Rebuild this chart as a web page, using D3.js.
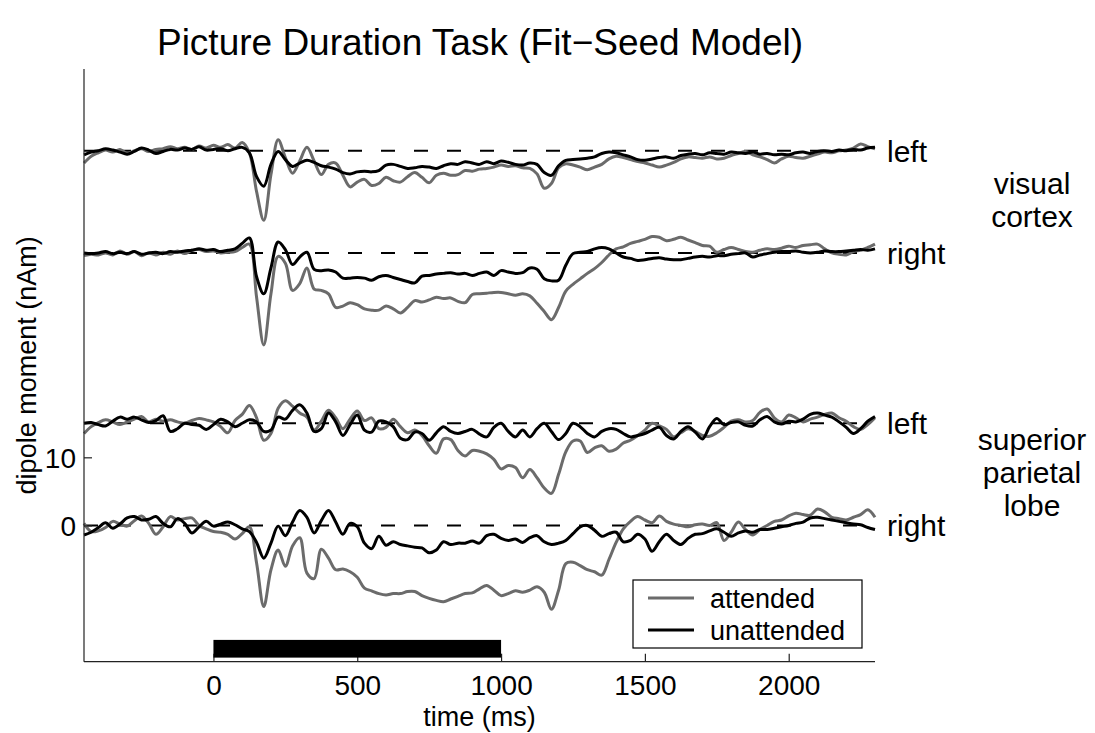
<!DOCTYPE html>
<html>
<head>
<meta charset="utf-8">
<script src="https://cdn.jsdelivr.net/npm/d3@7"></script>
<style>
    body { margin: 0; background: #fff; }
    text { font-family: "Liberation Sans", Arial, Helvetica, sans-serif; fill: #000; }
</style>
</head>
<body>
<div id="chart"></div>
<script>
// sample times (ms)
const timeMs = [-450, -425, -400, -375, -350, -325, -300, -275, -250, -225, -200, -175, -150, -125, -100, -75, -50, -25,
    0, 25, 50, 75, 100, 125, 150, 175, 200, 225, 250, 275, 300, 325, 350, 375, 400, 425, 450, 475,
    500, 525, 550, 575, 600, 625, 650, 675, 700, 725, 750, 775, 800, 825, 850, 875, 900, 925, 950, 975,
    1000, 1025, 1050, 1075, 1100, 1125, 1150, 1175, 1200, 1225, 1250, 1275, 1300, 1325, 1350, 1375, 1400, 1425, 1450, 1475,
    1500, 1525, 1550, 1575, 1600, 1625, 1650, 1675, 1700, 1725, 1750, 1775, 1800, 1825, 1850, 1875, 1900, 1925, 1950, 1975,
    2000, 2025, 2050, 2075, 2100, 2125, 2150, 2175, 2200, 2225, 2250, 2275, 2300];

// dipole moment (nAm) relative to each channel's baseline
const visualLeftAttended = [-1.8, -0.8, -0.3, 0.1, -0.2, 0.2, -0.4, 0.0, 0.3, -0.1, 0.2, 0.3, 0.6, 0.3, 0.5, 0.2, 0.7, 0.4,
    0.8, 0.5, 0.9, 0.4, 1.2, -0.3, -6.0, -10.2, -3.5, 1.6, -1.0, -3.3, -1.5, 0.5, -1.5, -3.5, -2.0, -1.8, -3.6, -5.3,
    -4.6, -4.2, -5.1, -4.8, -3.9, -4.4, -4.6, -3.8, -3.2, -3.9, -4.7, -3.6, -3.3, -3.6, -3.5, -2.9, -3.0, -2.7, -2.6, -2.4,
    -2.1, -2.3, -2.2, -2.5, -2.6, -3.4, -5.5, -4.8, -2.5, -1.9, -2.1, -2.4, -2.8, -2.4, -2.0, -1.2, -0.8, -1.0, -1.3, -1.6,
    -1.8, -2.1, -2.4, -2.1, -1.7, -1.2, -0.9, -1.0, -1.1, -0.9, -1.2, -1.1, -0.7, -0.4, -0.1, -0.6, -0.9, -1.3, -1.8, -1.2,
    -0.8, -1.0, -1.1, -0.8, -0.5, -0.2, -0.3, 0.0, 0.1, 0.4, 1.0, 0.6, 0.3];
const visualLeftUnattended = [-0.6, -0.2, 0.0, 0.3, 0.1, -0.2, -0.5, -0.1, 0.4, 0.1, -0.4, -0.1, 0.2, 0.1, 0.4, 0.2, 0.6, 0.1,
    0.2, 0.3, 0.0, 0.3, 0.5, -0.3, -3.8, -5.2, -2.0, -0.1, -1.3, -2.3, -1.8, -1.4, -1.7, -2.2, -2.4, -2.7, -3.2, -3.4,
    -3.1, -3.0, -3.1, -2.9, -2.1, -2.0, -2.3, -2.6, -2.5, -2.3, -2.4, -2.6, -2.2, -1.9, -2.0, -1.6, -1.8, -2.0, -1.6, -1.9,
    -1.5, -1.7, -2.0, -2.1, -1.8, -2.0, -3.2, -3.6, -2.2, -1.4, -1.3, -1.2, -1.1, -0.9, -0.4, -0.2, -0.3, -0.6, -0.9, -1.3,
    -1.4, -1.2, -1.0, -0.9, -1.1, -0.7, -0.5, -0.4, -0.6, -0.3, -0.4, -0.5, -0.2, -0.3, -0.4, -0.2, -0.5, -0.4, -0.6, -0.5,
    -0.6, -0.3, -0.2, -0.4, -0.1, 0.0, -0.1, 0.1, 0.0, 0.2, 0.1, 0.4, 0.5];
const visualRightAttended = [-0.4, -0.2, -0.3, 0.0, -0.3, 0.3, -0.2, 0.2, -0.4, 0.0, -0.3, 0.1, -0.2, 0.3, -0.1, 0.4, 0.5, 0.2,
    0.3, 0.0, 0.1, 0.2, 0.8, 1.3, -6.5, -13.5, -6.0, -0.5, -1.5, -5.5, -4.5, -2.2, -5.3, -5.5, -6.0, -8.0, -7.8, -7.3,
    -7.6, -8.2, -8.4, -8.4, -7.8, -8.2, -8.8, -8.0, -7.0, -7.2, -6.9, -6.5, -6.7, -6.6, -7.1, -7.3, -6.1, -6.0, -5.9, -5.8,
    -5.8, -6.0, -6.2, -6.0, -6.3, -7.4, -8.6, -9.8, -8.0, -5.6, -4.6, -3.8, -3.0, -2.3, -1.4, -0.3, 0.6, 0.9, 1.4, 1.7,
    2.0, 2.4, 2.3, 1.8, 2.0, 2.3, 1.9, 1.5, 1.1, 1.0, 0.1, 0.5, 0.8, 0.5, 0.2, 0.1, 0.4, 0.6, 0.5, 0.7,
    1.0, 0.8, 1.1, 1.2, 1.3, 0.6, 0.0, -0.2, -0.3, 0.2, 0.4, 0.8, 1.3];
const visualRightUnattended = [0.0, -0.1, 0.0, 0.2, -0.1, 0.1, -0.1, 0.2, -0.2, 0.0, 0.1, -0.1, 0.2, 0.1, 0.3, 0.4, 0.6, 0.4,
    0.5, 0.2, 0.4, 0.6, 1.4, 2.2, -3.5, -6.0, -2.2, 1.6, 0.5, -1.7, -0.6, 0.1, -2.4, -2.6, -2.5, -2.8, -3.7, -3.7,
    -3.6, -3.7, -4.0, -3.5, -3.3, -3.6, -3.9, -4.2, -4.4, -3.4, -3.3, -3.1, -3.0, -2.9, -3.1, -3.0, -3.3, -3.0, -2.8, -3.3,
    -2.6, -2.8, -3.0, -2.9, -2.2, -2.4, -3.8, -4.1, -4.0, -1.8, -0.1, 0.1, 0.2, 0.6, 0.8, 0.6, 0.0, -0.6, -0.8, -1.1,
    -1.0, -0.8, -0.7, -0.9, -1.0, -1.0, -0.8, -0.6, -0.5, -0.6, -0.4, -0.4, -0.2, -0.1, 0.0, -0.6, -0.3, -0.1, 0.1, 0.2,
    0.2, 0.3, 0.1, 0.0, 0.1, 0.3, 0.2, 0.2, 0.3, 0.4, 0.5, 0.4, 0.6];
const parietalLeftAttended = [-1.5, -0.5, 0.1, 0.5, 0.2, -0.2, 0.2, 0.6, 1.0, 0.2, 0.6, 0.3, 0.5, 0.2, 0.0, 0.4, 0.7, 0.5,
    0.2, -0.5, -1.4, 0.4, 1.3, 2.6, 0.8, -2.5, -1.5, 2.2, 3.3, 2.5, 1.5, 0.9, -1.0, 0.3, 1.9, 0.8, -0.8, 0.6,
    1.8, 0.4, 0.8, -0.8, -0.6, 0.6, -0.5, -1.4, -1.0, -1.8, -3.3, -4.4, -2.3, -2.4, -4.0, -4.8, -4.0, -4.1, -4.5, -5.3,
    -6.7, -6.2, -6.5, -8.0, -6.8, -8.0, -9.5, -10.3, -7.5, -4.2, -2.6, -2.6, -4.3, -3.6, -3.3, -4.1, -3.8, -2.9, -2.5, -1.8,
    -1.0, 0.0, -0.4, -0.9, -2.0, -1.4, -0.8, -1.2, -1.8, -1.9, -1.4, -0.6, 0.3, 0.5, 0.2, 0.4, 1.6, 2.1, 0.8, 0.2,
    1.2, 0.8, 0.2, 0.6, 0.9, 1.3, 1.5, 0.8, 0.3, -0.5, -0.9, -0.2, 0.8];
const parietalLeftUnattended = [0.0, 0.1, -0.2, -0.4, 0.3, 0.9, 0.6, 0.9, 0.5, 0.1, 0.4, 1.1, -1.2, -0.8, 0.0, -0.2, -0.3, -0.9,
    -0.2, 0.6, 0.2, -0.5, 0.0, 0.5, 0.2, -1.2, -1.0, 0.9, 0.6, 1.9, 2.7, 1.5, -1.2, -0.8, 1.5, 0.2, -1.8, -0.2,
    1.2, -1.0, -1.3, 0.3, 0.2, -0.5, -2.2, -2.4, -1.3, -1.5, -2.5, -1.4, -0.5, -1.2, -1.5, -1.2, -0.9, -1.6, -2.0, -0.6,
    0.0, -1.2, -2.0, -1.0, -2.0, -0.8, 0.0, -1.2, -2.4, -1.5, 0.0, -0.5, -1.5, -2.0, -1.2, -0.8, -0.9, -1.5, -2.0, -1.8,
    -1.5, -1.0, -0.6, -1.8, -2.3, -1.2, -0.5, -1.3, -2.3, -0.5, 0.7, -0.2, 0.1, 0.2, -0.3, -0.4, 0.5, 1.0, 0.2, -0.1,
    0.3, 0.2, 0.6, 1.3, 1.5, 1.2, 0.9, 0.2, -0.6, -1.5, -0.8, 0.3, 1.0];
const parietalRightAttended = [0.3, -0.9, -0.8, -0.3, 0.6, 0.2, -0.1, 0.7, 1.4, 0.3, -1.3, -0.2, 1.3, 0.8, 1.0, 1.1, 0.0, -0.5,
    -0.9, -1.0, -1.3, -2.0, -1.2, -0.2, -5.5, -11.9, -6.5, -3.6, -6.0, -3.0, -1.8, -7.0, -7.8, -3.5, -4.8, -6.5, -6.4, -6.8,
    -7.6, -9.2, -9.6, -10.0, -10.2, -10.0, -10.0, -9.7, -9.7, -10.3, -10.7, -11.0, -11.2, -10.8, -10.4, -10.0, -9.9, -9.3, -8.8, -9.5,
    -10.3, -10.0, -9.6, -9.8, -9.5, -9.0, -9.8, -12.3, -9.5, -5.6, -5.4, -5.9, -6.5, -6.8, -7.3, -5.0, -2.5, -0.5, 0.6, 1.3,
    0.8, 0.4, 1.4, 0.6, 0.2, 0.0, -0.2, 0.1, 0.2, 0.0, 0.4, -2.2, -1.0, 0.5, -0.6, -1.4, -0.6, 0.0, 0.6, 0.8,
    1.4, 1.8, 1.6, 1.5, 2.4, 2.0, 1.2, 1.0, 0.8, 1.2, 1.6, 2.3, 1.2];
const parietalRightUnattended = [-1.4, -1.0, -0.3, 0.4, -0.4, 0.2, 1.1, 1.3, 0.8, 0.9, 1.3, 0.3, -0.2, 1.0, 0.3, -1.1, -0.2, 0.6,
    -0.1, 0.2, 0.5, 0.1, -0.5, -0.9, -2.5, -4.8, -2.6, -0.1, -1.5, 0.5, 2.2, 1.2, -1.1, 0.7, 2.2, 0.5, -1.3, 0.3,
    -0.2, -2.6, -3.4, -1.6, -2.9, -2.4, -2.8, -3.0, -3.2, -3.3, -4.0, -3.6, -2.4, -2.8, -2.6, -2.6, -2.3, -2.6, -1.5, -1.3,
    -1.9, -2.2, -2.0, -2.5, -1.8, -1.5, -2.4, -2.8, -2.6, -2.2, -1.2, -0.2, 0.0, -0.7, -1.6, -1.2, -1.0, -2.4, -2.2, -1.3,
    -2.0, -3.8, -2.4, -1.3, -2.2, -2.8, -1.9, -1.3, -1.2, -0.8, -0.5, -1.0, -1.6, -1.1, -0.8, -1.0, -0.6, -0.6, -0.4, -0.2,
    0.0, 0.3, 0.5, 1.1, 1.2, 1.0, 0.8, 0.6, 0.4, 0.2, 0.1, -0.3, -0.6];

// channel baselines (nAm offsets) and labels
const channelOffsets = [55, 40, 15, 0];
const channelLabels = ['left', 'right', 'left', 'right'];
const attendedSeries = [visualLeftAttended, visualRightAttended, parietalLeftAttended, parietalRightAttended];
const unattendedSeries = [visualLeftUnattended, visualRightUnattended, parietalLeftUnattended, parietalRightUnattended];
const regionLabels = [['visual', 'cortex'], ['superior', 'parietal', 'lobe']];
const regionChannels = [[0, 1], [2, 3]];

const xTicks = [0, 500, 1000, 1500, 2000];
const yTicks = [0, 10];
const stimulusInterval = [0, 1000];
const legendLabels = ['attended', 'unattended'];

const colors = { attended: '#6b6b6b', unattended: '#000000' };

const width = 1095, height = 733;
const plot = { left: 84, right: 875, top: 69, bottom: 661.7 };

const svg = d3.select('#chart').append('svg')
    .attr('width', width)
    .attr('height', height);

const xScale = d3.scaleLinear()
    .domain([-450, 2300])
    .range([plot.left, plot.right]);

const yScale = d3.scaleLinear()
    .domain([-20, 67])
    .range([plot.bottom, plot.top]);

// baselines
channelOffsets.forEach(off => {
    svg.append('line')
        .attr('x1', xScale(-450)).attr('x2', xScale(2300))
        .attr('y1', yScale(off)).attr('y2', yScale(off))
        .attr('stroke', '#000')
        .attr('stroke-width', 2)
        .attr('stroke-dasharray', '14,19');
});

const line = (off) => d3.line()
    .x((d, i) => xScale(timeMs[i]))
    .y(d => yScale(d + off))
    .curve(d3.curveCatmullRom);

channelOffsets.forEach((off, c) => {
    svg.append('path')
        .datum(attendedSeries[c])
        .attr('fill', 'none')
        .attr('stroke', colors.attended)
        .attr('stroke-width', 3)
        .attr('stroke-linejoin', 'round')
        .attr('d', line(off));
    svg.append('path')
        .datum(unattendedSeries[c])
        .attr('fill', 'none')
        .attr('stroke', colors.unattended)
        .attr('stroke-width', 3)
        .attr('stroke-linejoin', 'round')
        .attr('d', line(off));
});

// axes (MATLAB style, ticks inside)
const xAxis = d3.axisBottom(xScale)
    .tickValues(xTicks)
    .tickFormat(d3.format('d'))
    .tickSize(-8)
    .tickPadding(13)
    .tickSizeOuter(0);
const yAxis = d3.axisLeft(yScale)
    .tickValues(yTicks)
    .tickFormat(d3.format('d'))
    .tickSize(-8)
    .tickPadding(8)
    .tickSizeOuter(0);

const xAxisGroup = svg.append('g')
    .attr('transform', `translate(0,${plot.bottom})`)
    .call(xAxis);
const yAxisGroup = svg.append('g')
    .attr('transform', `translate(${plot.left},0)`)
    .call(yAxis);

// full-length spines
xAxisGroup.select('.domain').attr('d', `M${plot.left},0H${plot.right}`);
yAxisGroup.select('.domain').attr('d', `M0,${plot.top}V${plot.bottom}`);

[xAxisGroup, yAxisGroup].forEach(g => {
    g.attr('font-size', null).attr('font-family', null);
    g.selectAll('.domain, .tick line').attr('stroke', '#222').attr('stroke-width', 1.2);
    g.selectAll('text')
        .attr('fill', '#000')
        .style('font-size', '28px');
});
yAxisGroup.selectAll('text').attr('dy', '0.36em');

// stimulus bar
svg.append('rect')
    .attr('x', xScale(stimulusInterval[0]))
    .attr('width', xScale(stimulusInterval[1]) - xScale(stimulusInterval[0]))
    .attr('y', yScale(-16.8))
    .attr('height', yScale(-19.4) - yScale(-16.8))
    .attr('fill', '#000');

// channel labels
channelOffsets.forEach((off, c) => {
    svg.append('text')
        .attr('x', plot.right + 12)
        .attr('y', yScale(off))
        .attr('dy', '0.36em')
        .style('font-size', '30px')
        .text(channelLabels[c]);
});

// region labels
regionLabels.forEach((lines, r) => {
    const mid = yScale((channelOffsets[regionChannels[r][0]] + channelOffsets[regionChannels[r][1]]) / 2);
    lines.forEach((t, i) => {
        svg.append('text')
            .attr('x', 1032)
            .attr('y', mid + (i - (lines.length - 1) / 2) * 33 + 9)
            .attr('text-anchor', 'middle')
            .style('font-size', '30px')
            .text(t);
    });
});

// legend
const legend = svg.append('g').attr('transform', 'translate(633,580)');
legend.append('rect')
    .attr('width', 229).attr('height', 68)
    .attr('fill', '#fff')
    .attr('stroke', '#000')
    .attr('stroke-width', 1.2);
legendLabels.forEach((lab, i) => {
    legend.append('line')
        .attr('x1', 15).attr('x2', 61)
        .attr('y1', 18 + i * 32).attr('y2', 18 + i * 32)
        .attr('stroke', i === 0 ? colors.attended : colors.unattended)
        .attr('stroke-width', 3);
    legend.append('text')
        .attr('x', 77)
        .attr('y', 18 + i * 32)
        .attr('dy', '0.36em')
        .style('font-size', '27px')
        .text(lab);
});

// titles
svg.append('text')
    .attr('x', 480)
    .attr('y', 55)
    .attr('text-anchor', 'middle')
    .style('font-size', '37px')
    .text('Picture Duration Task (Fit\u2212Seed Model)');

svg.append('text')
    .attr('x', (plot.left + plot.right) / 2)
    .attr('y', 726)
    .attr('text-anchor', 'middle')
    .style('font-size', '27px')
    .text('time (ms)');

svg.append('text')
    .attr('transform', `translate(36,${(plot.top + plot.bottom) / 2}) rotate(-90)`)
    .attr('text-anchor', 'middle')
    .style('font-size', '27px')
    .text('dipole moment (nAm)');
</script>
</body>
</html>
